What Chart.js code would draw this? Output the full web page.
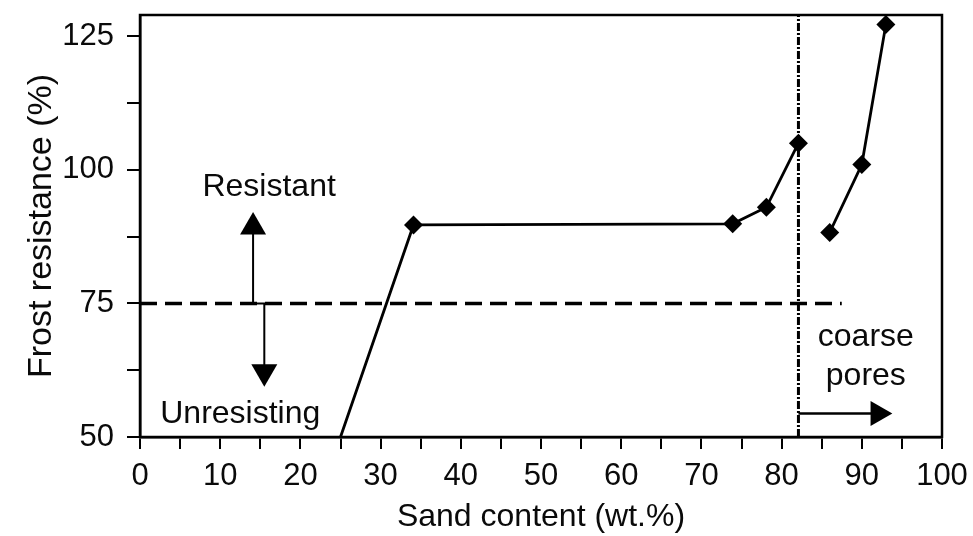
<!DOCTYPE html>
<html>
<head>
<meta charset="utf-8">
<script src="https://cdn.jsdelivr.net/npm/chart.js@4/dist/chart.umd.min.js"></script>
<style>
  html, body { margin: 0; padding: 0; background: #fff; }
  #wrap { width: 973px; height: 536px; }
</style>
</head>
<body>
<div id="wrap"><canvas id="c" width="973" height="536"></canvas></div>
<script>
// Frost resistance of the mixes against their sand content
const sandFine = [25, 34.1, 73.9, 78.1, 82.1];
const frostFine = [50, 89.7, 89.9, 93.0, 105.0];
const sandCoarse = [86.0, 90.0, 93.0];
const frostCoarse = [88.3, 101.0, 127.2];

// Reference levels: resistance threshold and the coarse-pore limit
const thresholdLevel = 75;
const thresholdSpan = [0, 87.5];
const coarseLimit = 82.1;

// Arrow shafts (x, y pairs) and their heads
const splitArrowX = [14.1, 14.1, 15.5, 15.5];
const splitArrowY = [89.3, 75, 75, 62.2];
const poreArrowX = [82.1, 92.0];
const poreArrowY = [54.4, 54.4];
const headX = [14.1, 15.5, 92.0];
const headY = [89.3, 62.2, 54.4];
const headAngle = [0, 180, 90];

// Notes written inside the plot
const noteText = ['Resistant', 'Unresisting', 'coarse', 'pores'];
const noteX = [16.1, 12.5, 90.5, 90.5];
const noteY = [96.7, 54.3, 68.6, 61.4];

// Axis ticks
const xTickStep = 5, xLabelEvery = 10;
const yTickStep = 12.5, yLabelEvery = 25;
const yRange = [50, 129];

const FONT = '"Liberation Sans", Arial, Helvetica, sans-serif';
const INK = '#0a0a0a';
const pts = (xs, ys) => xs.map((v, i) => ({ x: v, y: ys[i] }));

const frameAndNotes = {
  id: 'frameAndNotes',
  afterDatasetsDraw(chart) {
    const { ctx, chartArea: a, scales: { x, y } } = chart;
    ctx.save();
    ctx.strokeStyle = '#000';
    ctx.lineWidth = 2.5;
    ctx.strokeRect(a.left, a.top, a.right - a.left, a.bottom - a.top);
    ctx.fillStyle = INK;
    ctx.font = '32px ' + FONT;
    ctx.textAlign = 'center';
    ctx.textBaseline = 'middle';
    noteText.forEach((t, i) => {
      ctx.fillText(t, x.getPixelForValue(noteX[i]), y.getPixelForValue(noteY[i]));
    });
    ctx.restore();
  }
};

new Chart(document.getElementById('c'), {
  type: 'scatter',
  data: {
    datasets: [
      {
        data: pts(thresholdSpan, [thresholdLevel, thresholdLevel]),
        showLine: true, borderColor: '#000', borderWidth: 3.5,
        borderDash: [17, 8], pointRadius: 0
      },
      {
        data: pts([coarseLimit, coarseLimit], yRange),
        showLine: true, borderColor: '#000', borderWidth: 3,
        borderDash: [8, 2, 2, 2], pointRadius: 0
      },
      {
        data: pts(splitArrowX, splitArrowY),
        showLine: true, borderColor: '#000', borderWidth: 2, pointRadius: 0
      },
      {
        data: pts(poreArrowX, poreArrowY),
        showLine: true, borderColor: '#000', borderWidth: 2.5, pointRadius: 0
      },
      {
        data: pts(headX, headY),
        showLine: false, pointStyle: 'triangle', pointRotation: headAngle,
        pointRadius: [15, 15, 14.5], backgroundColor: '#000', borderWidth: 0,
        clip: false
      },
      {
        data: pts(sandFine, frostFine),
        showLine: true, borderColor: '#000', borderWidth: 2.8,
        pointStyle: 'rectRot', pointRadius: (c) => c.dataIndex === 0 ? 0 : 9.5,
        pointBackgroundColor: '#000', pointBorderWidth: 0, clip: false
      },
      {
        data: pts(sandCoarse, frostCoarse),
        showLine: true, borderColor: '#000', borderWidth: 2.8,
        pointStyle: 'rectRot', pointRadius: 9.5,
        pointBackgroundColor: '#000', pointBorderWidth: 0, clip: false
      }
    ]
  },
  options: {
    responsive: false,
    animation: false,
    events: [],
    layout: { padding: { top: 11, right: 31, left: 0, bottom: 0 } },
    plugins: { legend: { display: false }, tooltip: { enabled: false } },
    scales: {
      x: {
        type: 'linear', min: 0, max: 100,
        afterFit: (s) => { s.height = 99; s.paddingLeft = 0; s.paddingRight = 0; },
        ticks: {
          stepSize: xTickStep, autoSkip: false, maxRotation: 0, padding: 9,
          color: INK, font: { family: FONT, size: 31 },
          callback: (v) => (v % xLabelEvery === 0 ? v : '')
        },
        grid: { display: true, drawOnChartArea: false, drawTicks: true, tickLength: 12, color: '#000', lineWidth: 2 },
        border: { display: true, color: '#000', width: 2.5 },
        title: {
          display: true, text: 'Sand content (wt.%)', color: INK,
          font: { family: FONT, size: 32 }, padding: { top: 0, bottom: 0 }
        }
      },
      y: {
        type: 'linear', min: yRange[0], max: yRange[1],
        afterFit: (s) => { s.width = 140; s.paddingTop = 0; s.paddingBottom = 0; },
        ticks: {
          stepSize: yTickStep, includeBounds: false, padding: 13,
          color: INK, font: { family: FONT, size: 31 },
          callback: (v) => (v % yLabelEvery === 0 ? v : '')
        },
        grid: { display: true, drawOnChartArea: false, drawTicks: true, tickLength: 13, color: '#000', lineWidth: 2 },
        border: { display: true, color: '#000', width: 2.5 },
        title: {
          display: true, text: 'Frost resistance (%)', color: INK,
          font: { family: FONT, size: 34 }, padding: { top: 21, bottom: 0 }
        }
      }
    }
  },
  plugins: [frameAndNotes]
});
</script>
</body>
</html>
